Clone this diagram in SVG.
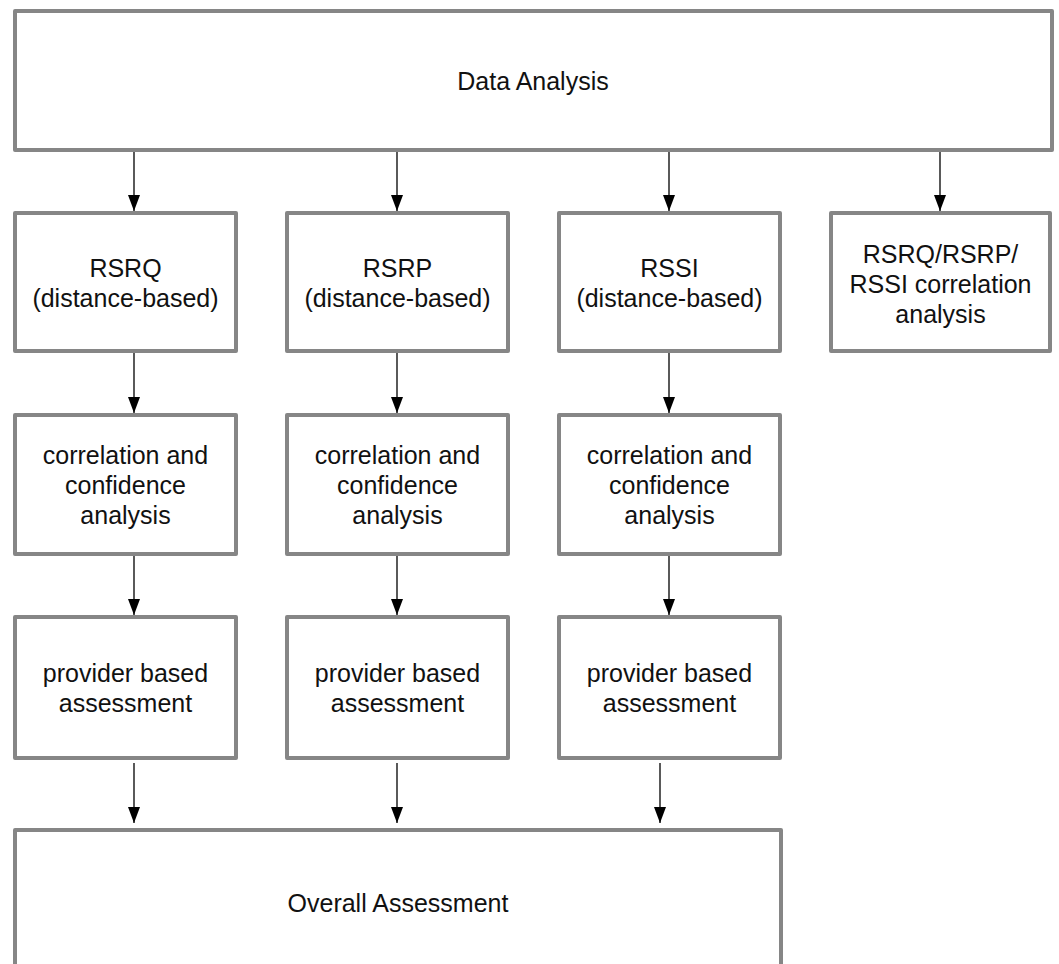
<svg xmlns="http://www.w3.org/2000/svg" width="1059" height="964" viewBox="0 0 1059 964">
<style>
.box{fill:#ffffff;stroke:#868686;stroke-width:4;stroke-linejoin:round}
.lbl{font-family:"Liberation Sans",Arial,Helvetica,sans-serif;font-size:25px;fill:#111111;text-anchor:middle}
.conn{stroke:#000000;stroke-width:1.3;fill:none;marker-end:url(#arr)}
</style>
<defs>
<marker id="arr" markerUnits="userSpaceOnUse" markerWidth="16" markerHeight="12" refX="16" refY="6" orient="auto">
<path d="M0,0 L16,6 L0,12 z" fill="#000000"/>
</marker>
</defs>
<rect width="1059" height="964" fill="#ffffff"/>
<g id="data-analysis"><rect class="box" x="15" y="11" width="1037" height="139"/><text class="lbl" x="533" y="90">Data Analysis</text></g>
<g id="rsrq"><rect class="box" x="15" y="213" width="221" height="138"/><text class="lbl" x="125.5" y="277">RSRQ</text><text class="lbl" x="125.5" y="307">(distance-based)</text></g>
<g id="rsrp"><rect class="box" x="287" y="213" width="221" height="138"/><text class="lbl" x="397.5" y="277">RSRP</text><text class="lbl" x="397.5" y="307">(distance-based)</text></g>
<g id="rssi"><rect class="box" x="559" y="213" width="221" height="138"/><text class="lbl" x="669.5" y="277">RSSI</text><text class="lbl" x="669.5" y="307">(distance-based)</text></g>
<g id="corr-all"><rect class="box" x="831" y="213" width="219" height="138"/><text class="lbl" x="940.5" y="263">RSRQ/RSRP/</text><text class="lbl" x="940.5" y="293">RSSI correlation</text><text class="lbl" x="940.5" y="323">analysis</text></g>
<g id="corr1"><rect class="box" x="15" y="415" width="221" height="139"/><text class="lbl" x="125.5" y="464">correlation and</text><text class="lbl" x="125.5" y="494">confidence</text><text class="lbl" x="125.5" y="524">analysis</text></g>
<g id="corr2"><rect class="box" x="287" y="415" width="221" height="139"/><text class="lbl" x="397.5" y="464">correlation and</text><text class="lbl" x="397.5" y="494">confidence</text><text class="lbl" x="397.5" y="524">analysis</text></g>
<g id="corr3"><rect class="box" x="559" y="415" width="221" height="139"/><text class="lbl" x="669.5" y="464">correlation and</text><text class="lbl" x="669.5" y="494">confidence</text><text class="lbl" x="669.5" y="524">analysis</text></g>
<g id="prov1"><rect class="box" x="15" y="617" width="221" height="141"/><text class="lbl" x="125.5" y="682">provider based</text><text class="lbl" x="125.5" y="712">assessment</text></g>
<g id="prov2"><rect class="box" x="287" y="617" width="221" height="141"/><text class="lbl" x="397.5" y="682">provider based</text><text class="lbl" x="397.5" y="712">assessment</text></g>
<g id="prov3"><rect class="box" x="559" y="617" width="221" height="141"/><text class="lbl" x="669.5" y="682">provider based</text><text class="lbl" x="669.5" y="712">assessment</text></g>
<g id="overall"><rect class="box" x="15" y="830" width="766" height="170"/><text class="lbl" x="398" y="912">Overall Assessment</text></g>
<g id="connectors">
<line class="conn" x1="134" y1="152" x2="134" y2="211"/>
<line class="conn" x1="397" y1="152" x2="397" y2="211"/>
<line class="conn" x1="669" y1="152" x2="669" y2="211"/>
<line class="conn" x1="940" y1="152" x2="940" y2="211"/>
<line class="conn" x1="134" y1="353" x2="134" y2="413"/>
<line class="conn" x1="397" y1="353" x2="397" y2="413"/>
<line class="conn" x1="669" y1="353" x2="669" y2="413"/>
<line class="conn" x1="134" y1="556" x2="134" y2="615"/>
<line class="conn" x1="397" y1="556" x2="397" y2="615"/>
<line class="conn" x1="669" y1="556" x2="669" y2="615"/>
<line class="conn" x1="134" y1="763" x2="134" y2="823"/>
<line class="conn" x1="397" y1="763" x2="397" y2="823"/>
<line class="conn" x1="660" y1="763" x2="660" y2="823"/>
</g>
</svg>
